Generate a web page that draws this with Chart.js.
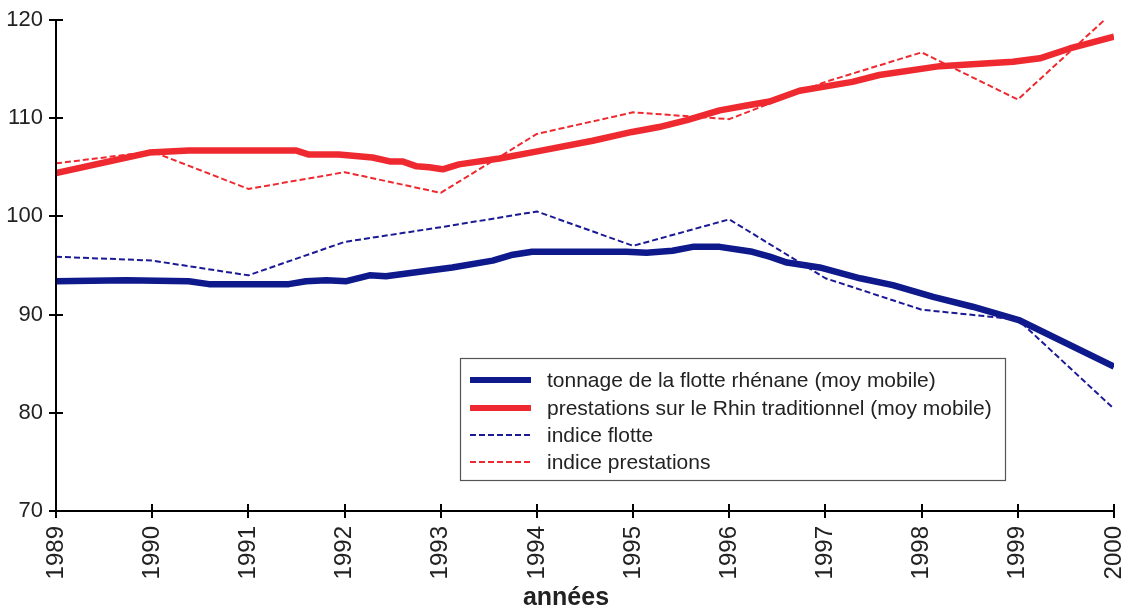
<!DOCTYPE html>
<html>
<head>
<meta charset="utf-8">
<script src="https://cdn.jsdelivr.net/npm/chart.js@4"></script>
<style>
  html, body { margin: 0; padding: 0; background: #fff; }
  #wrap { width: 1128px; height: 612px; }
</style>
</head>
<body>
<div id="wrap"><canvas id="rhinChart" width="1128" height="612"></canvas></div>
<script>
// annual index values
const annees = [1989, 1990, 1991, 1992, 1993, 1994, 1995, 1996, 1997, 1998, 1999, 2000];
const indiceFlotte = [95.9, 95.5, 94.0, 97.4, 98.9, 100.5, 97.0, 99.7, 93.7, 90.5, 89.5, 80.4];
const indicePrestations = [105.4, 106.6, 102.8, 104.5, 102.4, 108.4, 110.6, 109.9, 113.7, 116.7, 111.9, 120.9];

// moving averages (read at their vertices)
const moyFlotteX = [1989.00, 1989.73, 1990.38, 1990.59, 1991.42, 1991.60, 1991.81, 1992.02, 1992.26, 1992.43,
  1992.88, 1993.12, 1993.54, 1993.75, 1993.95, 1994.93, 1995.14, 1995.41, 1995.62, 1995.90,
  1996.24, 1996.42, 1996.60, 1996.94, 1997.36, 1997.70, 1998.12, 1998.53, 1999.02, 2000.00];
const moyFlotteY = [93.4, 93.5, 93.4, 93.1, 93.1, 93.4, 93.5, 93.4, 94.0, 93.9,
  94.5, 94.8, 95.5, 96.1, 96.4, 96.4, 96.3, 96.5, 96.9, 96.9,
  96.4, 95.9, 95.3, 94.8, 93.7, 93.0, 91.8, 90.8, 89.4, 84.7];
const moyPrestX = [1989.00, 1989.97, 1990.38, 1991.50, 1991.63, 1991.94, 1992.29, 1992.47, 1992.60, 1992.75,
  1992.88, 1993.02, 1993.19, 1993.61, 1993.99, 1994.58, 1994.99, 1995.27, 1995.56, 1995.90,
  1996.18, 1996.42, 1996.73, 1997.28, 1997.56, 1998.19, 1998.95, 1999.23, 1999.54, 2000.00];
const moyPrestY = [104.4, 106.5, 106.7, 106.7, 106.3, 106.3, 106.0, 105.6, 105.6, 105.1,
  105.0, 104.8, 105.3, 105.9, 106.6, 107.7, 108.6, 109.1, 109.8, 110.8,
  111.3, 111.7, 112.8, 113.7, 114.4, 115.3, 115.75, 116.1, 117.1, 118.3];

const yTicks = [70, 80, 90, 100, 110, 120];

const BLUE = "#0e1a8b";
const RED = "#ee2a30";
const FONT = "'Liberation Sans', Arial, sans-serif";

function pts(xs, ys) {
  return xs.map((x, i) => ({ x: x, y: ys[i] }));
}

function noPad(s) {
  s.paddingLeft = 0;
  s.paddingRight = 0;
  s.paddingTop = 0;
  s.paddingBottom = 0;
}

// axes with ticks crossing the line, plus the boxed legend
const decorPlugin = {
  id: "decor",
  afterDraw(chart) {
    const ctx = chart.ctx;
    const xs = chart.scales.x, ys = chart.scales.y;
    const area = chart.chartArea;
    ctx.save();
    ctx.strokeStyle = "#000";
    ctx.lineWidth = 2;
    ctx.beginPath();
    ctx.moveTo(area.left, area.top);
    ctx.lineTo(area.left, area.bottom);
    ctx.lineTo(area.right, area.bottom);
    ctx.stroke();
    ctx.beginPath();
    yTicks.forEach(v => {
      const y = Math.round(ys.getPixelForValue(v));
      ctx.moveTo(area.left - 7, y);
      ctx.lineTo(area.left + 7, y);
    });
    annees.forEach(v => {
      const x = Math.round(xs.getPixelForValue(v));
      ctx.moveTo(x, area.bottom - 7);
      ctx.lineTo(x, area.bottom + 7);
    });
    ctx.stroke();

    // axis title
    ctx.fillStyle = "#222";
    ctx.font = "bold 25px " + FONT;
    ctx.textAlign = "center";
    ctx.textBaseline = "middle";
    ctx.fillText("années", 566, 598);

    // legend
    const box = { x: 460.5, y: 358.5, w: 545, h: 122 };
    ctx.fillStyle = "#fff";
    ctx.fillRect(box.x, box.y, box.w, box.h);
    ctx.strokeStyle = "#555";
    ctx.lineWidth = 1.2;
    ctx.strokeRect(box.x, box.y, box.w, box.h);
    const rows = [380, 408, 435, 462];
    ctx.font = "21px " + FONT;
    ctx.textAlign = "left";
    chart.data.datasets.forEach((ds, i) => {
      const y = rows[i];
      ctx.strokeStyle = ds.borderColor;
      ctx.lineWidth = ds.borderDash.length ? 2 : 6;
      ctx.setLineDash(ds.borderDash);
      ctx.beginPath();
      ctx.moveTo(470, y);
      ctx.lineTo(531, y);
      ctx.stroke();
      ctx.setLineDash([]);
      ctx.fillStyle = "#222";
      ctx.fillText(ds.label, 547, y + 1);
    });
    ctx.restore();
  }
};

new Chart(document.getElementById("rhinChart").getContext("2d"), {
  type: "line",
  data: {
    datasets: [
      {
        label: "tonnage de la flotte rhénane (moy mobile)",
        data: pts(moyFlotteX, moyFlotteY),
        borderColor: BLUE,
        borderWidth: 6.5,
        borderDash: [],
        order: 1
      },
      {
        label: "prestations sur le Rhin traditionnel (moy mobile)",
        data: pts(moyPrestX, moyPrestY),
        borderColor: RED,
        borderWidth: 6.5,
        borderDash: [],
        order: 1
      },
      {
        label: "indice flotte",
        data: pts(annees, indiceFlotte),
        borderColor: "#1b1a96",
        borderWidth: 2,
        borderDash: [6, 3],
        order: 0
      },
      {
        label: "indice prestations",
        data: pts(annees, indicePrestations),
        borderColor: RED,
        borderWidth: 2,
        borderDash: [6, 3],
        order: 0
      }
    ]
  },
  options: {
    responsive: false,
    animation: false,
    layout: { padding: { left: 0, right: 14, top: 20, bottom: 0 } },
    elements: {
      point: { radius: 0 },
      line: { tension: 0, borderJoinStyle: "round", fill: false }
    },
    plugins: {
      legend: { display: false },
      tooltip: { enabled: false }
    },
    scales: {
      x: {
        type: "linear",
        min: 1989,
        max: 2000,
        grid: { display: false, drawTicks: false },
        border: { display: false },
        ticks: {
          stepSize: 1,
          minRotation: 90,
          maxRotation: 90,
          padding: 15,
          color: "#222",
          font: { family: FONT, size: 24 },
          callback: v => String(v)
        },
        afterFit: s => { s.height = 101; noPad(s); }
      },
      y: {
        min: 70,
        max: 120,
        grid: { display: false, drawTicks: false },
        border: { display: false },
        ticks: {
          stepSize: 10,
          padding: 13,
          color: "#222",
          font: { family: FONT, size: 22 }
        },
        afterFit: s => { s.width = 56; noPad(s); }
      }
    }
  },
  plugins: [decorPlugin]
});
</script>
</body>
</html>
